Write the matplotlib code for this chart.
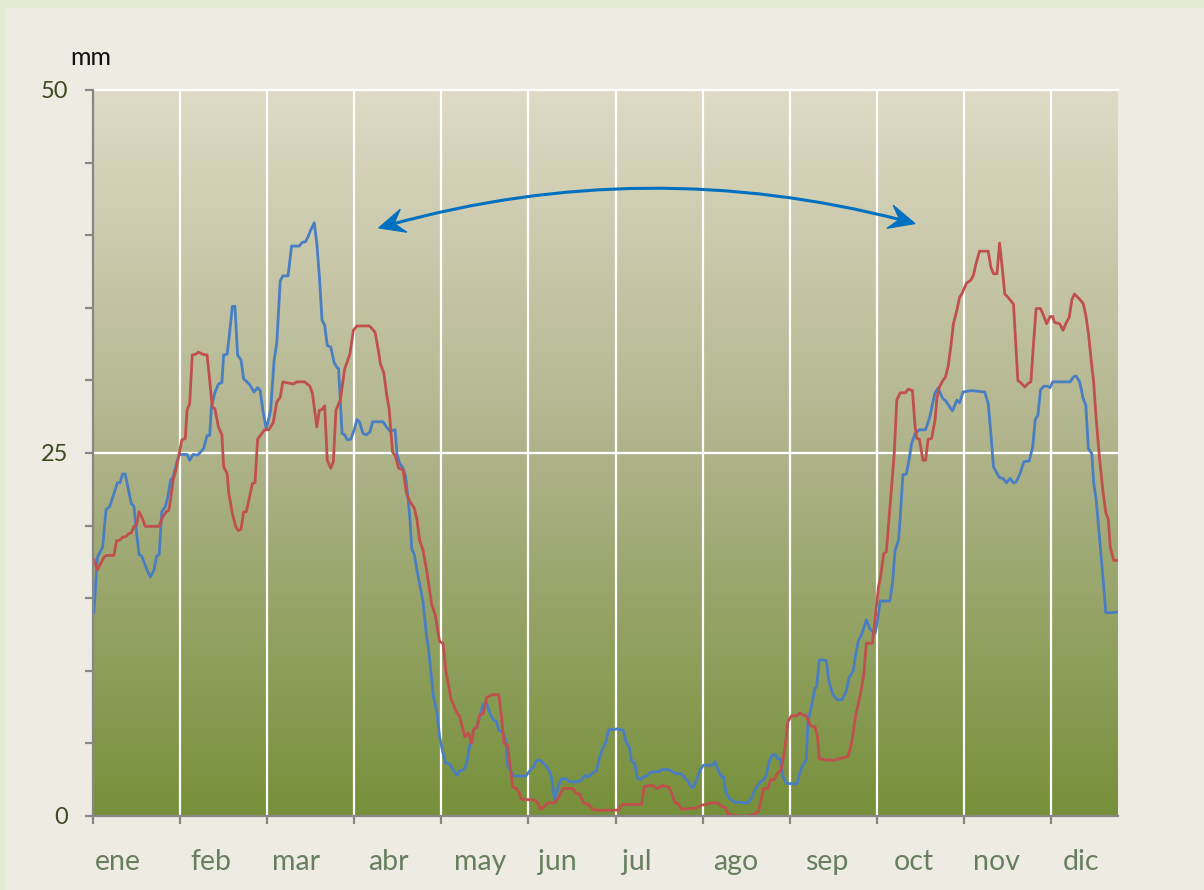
import numpy as np
import matplotlib
matplotlib.use("Agg")
import matplotlib.pyplot as plt
from matplotlib.patches import Rectangle, FancyArrowPatch, Polygon
from matplotlib.colors import LinearSegmentedColormap
import matplotlib.transforms as mtransforms

# ---------------- data ----------------
months = ["ene", "feb", "mar", "abr", "may", "jun", "jul", "ago", "sep", "oct", "nov", "dic"]

# x position in month units (0 = start of ene), value in mm
blue_x = [0.01, 0.05, 0.11, 0.15, 0.19, 0.23, 0.28, 0.31, 0.34, 0.37, 0.42, 0.44, 0.47, 0.50, 0.53,
          0.56, 0.62, 0.66, 0.70, 0.73, 0.76, 0.79, 0.83, 0.86, 0.89, 0.92, 0.96, 0.99, 1.08, 1.11,
          1.15, 1.20, 1.24, 1.27, 1.31, 1.34, 1.36, 1.40, 1.44, 1.48, 1.50, 1.54, 1.56, 1.60, 1.63,
          1.66, 1.70, 1.73, 1.76, 1.80, 1.85, 1.89, 1.92, 1.95, 1.99, 2.04, 2.08, 2.11, 2.15, 2.18,
          2.24, 2.28, 2.37, 2.40, 2.44, 2.47, 2.50, 2.54, 2.57, 2.60, 2.63, 2.66, 2.69, 2.73, 2.77,
          2.80, 2.82, 2.86, 2.89, 2.92, 2.96, 3.00, 3.03, 3.06, 3.10, 3.14, 3.18, 3.21, 3.33, 3.37,
          3.41, 3.47, 3.49, 3.52, 3.56, 3.59, 3.62, 3.64, 3.66, 3.69, 3.73, 3.79, 3.83, 3.85, 3.91,
          3.95, 3.98, 4.02, 4.05, 4.09, 4.14, 4.18, 4.21, 4.26, 4.29, 4.33, 4.37, 4.41, 4.44, 4.48,
          4.52, 4.56, 4.60, 4.63, 4.66, 4.70, 4.74, 4.76, 4.80, 4.83, 4.97, 5.02, 5.06, 5.09, 5.13,
          5.17, 5.21, 5.25, 5.27, 5.30, 5.34, 5.38, 5.43, 5.48, 5.57, 5.61, 5.65, 5.69, 5.73, 5.78,
          5.82, 5.86, 5.89, 5.92, 5.97, 6.02, 6.09, 6.12, 6.16, 6.18, 6.22, 6.25, 6.28, 6.32, 6.36,
          6.39, 6.43, 6.50, 6.53, 6.61, 6.64, 6.68, 6.76, 6.80, 6.83, 6.87, 6.90, 6.93, 6.97, 7.01,
          7.12, 7.14, 7.18, 7.21, 7.24, 7.27, 7.31, 7.37, 7.52, 7.56, 7.60, 7.66, 7.70, 7.73, 7.77,
          7.80, 7.83, 7.86, 7.89, 7.92, 7.96, 8.08, 8.12, 8.16, 8.19, 8.21, 8.25, 8.29, 8.31, 8.34,
          8.37, 8.42, 8.45, 8.50, 8.55, 8.60, 8.65, 8.68, 8.73, 8.76, 8.79, 8.83, 8.88, 8.92, 8.98,
          9.00, 9.04, 9.15, 9.18, 9.21, 9.25, 9.27, 9.30, 9.34, 9.37, 9.40, 9.44, 9.49, 9.56, 9.61,
          9.64, 9.67, 9.70, 9.76, 9.79, 9.84, 9.87, 9.92, 9.95, 9.99, 10.09, 10.24, 10.28, 10.31, 10.34,
          10.38, 10.41, 10.45, 10.49, 10.53, 10.57, 10.60, 10.64, 10.69, 10.75, 10.79, 10.82, 10.85, 10.88, 10.92,
          10.96, 10.99, 11.02, 11.22, 11.26, 11.29, 11.33, 11.37, 11.40, 11.43, 11.47, 11.49, 11.52, 11.56, 11.60,
          11.63, 11.70, 11.76]
blue_y = [14.0, 17.8, 18.5, 21.1, 21.3, 22.0, 22.95, 22.95, 23.55, 23.55, 22.1, 21.5, 21.35, 19.5, 18.0,
          17.9, 16.95, 16.45, 16.95, 17.9, 18.0, 20.95, 21.3, 22.0, 23.1, 23.35, 24.3, 24.9, 24.9, 24.5,
          24.9, 24.85, 25.1, 25.3, 26.2, 26.2, 28.2, 29.15, 29.75, 29.85, 31.75, 31.8, 32.8, 35.1, 35.1,
          31.75, 31.4, 30.1, 29.95, 29.7, 29.2, 29.5, 29.3, 27.95, 26.65, 27.95, 31.4, 32.55, 36.85, 37.2,
          37.2, 39.25, 39.25, 39.5, 39.55, 39.9, 40.35, 40.85, 39.45, 37.1, 34.15, 33.8, 32.4, 32.3, 31.2,
          30.9, 30.8, 26.35, 26.25, 25.9, 25.95, 26.6, 27.3, 27.15, 26.35, 26.25, 26.45, 27.15, 27.15, 26.8,
          26.5, 26.6, 24.95, 24.3, 23.95, 23.35, 21.75, 20.4, 18.4, 18.0, 16.6, 14.75, 12.4, 11.65, 8.2,
          7.1, 5.45, 4.3, 3.65, 3.6, 3.15, 2.8, 3.1, 3.2, 3.6, 5.0, 5.9, 6.15, 6.85, 7.7,
          7.75, 7.05, 6.6, 6.55, 5.9, 5.8, 5.25, 3.5, 3.05, 2.75, 2.75, 3.15, 3.4, 3.8, 3.85,
          3.65, 3.4, 2.95, 2.5, 1.1, 2.0, 2.55, 2.55, 2.35, 2.35, 2.5, 2.8, 2.7, 2.95, 3.1,
          4.1, 4.75, 5.1, 5.95, 5.95, 6.0, 5.9, 5.1, 4.75, 3.85, 3.6, 2.65, 2.5, 2.7, 2.75,
          2.95, 3.05, 3.05, 3.2, 3.2, 3.1, 2.95, 2.9, 2.6, 2.4, 2.0, 2.0, 2.5, 3.15, 3.5,
          3.5, 3.75, 3.15, 2.75, 2.7, 1.55, 1.2, 0.95, 0.9, 1.2, 1.8, 2.35, 2.5, 2.8, 3.85,
          4.2, 4.25, 3.95, 3.95, 2.75, 2.25, 2.2, 3.05, 3.6, 3.85, 6.5, 7.55, 8.8, 8.9, 10.75,
          10.75, 10.7, 9.3, 8.3, 8.0, 8.0, 8.6, 9.5, 10.0, 11.2, 12.1, 12.55, 13.5, 12.9, 12.55,
          13.15, 14.8, 14.8, 16.0, 18.3, 19.0, 20.6, 23.5, 23.55, 24.5, 25.65, 26.35, 26.6, 26.6, 27.5,
          28.4, 29.15, 29.45, 28.75, 28.6, 28.15, 27.9, 28.65, 28.45, 29.2, 29.3, 29.2, 28.4, 26.35, 24.05,
          23.6, 23.3, 23.25, 22.95, 23.25, 22.95, 23.0, 23.5, 24.4, 24.45, 25.4, 27.3, 27.6, 29.35, 29.6,
          29.6, 29.5, 29.9, 29.9, 30.25, 30.3, 29.9, 28.75, 28.3, 25.3, 24.95, 23.0, 21.75, 19.0, 16.25,
          14.0, 14.0, 14.05]

red_x = [0.01, 0.05, 0.09, 0.13, 0.16, 0.24, 0.27, 0.31, 0.34, 0.38, 0.41, 0.44, 0.47, 0.50, 0.53,
         0.57, 0.60, 0.76, 0.80, 0.84, 0.87, 0.89, 0.92, 0.95, 0.99, 1.02, 1.06, 1.08, 1.11, 1.14,
         1.18, 1.21, 1.26, 1.31, 1.34, 1.37, 1.40, 1.44, 1.48, 1.50, 1.54, 1.56, 1.60, 1.64, 1.67,
         1.70, 1.73, 1.76, 1.79, 1.83, 1.86, 1.89, 1.94, 1.97, 2.02, 2.07, 2.11, 2.15, 2.18, 2.26,
         2.30, 2.34, 2.43, 2.49, 2.52, 2.55, 2.57, 2.60, 2.63, 2.66, 2.69, 2.73, 2.76, 2.79, 2.84,
         2.89, 2.95, 2.99, 3.03, 3.17, 3.20, 3.24, 3.28, 3.30, 3.34, 3.37, 3.40, 3.44, 3.47, 3.51,
         3.56, 3.60, 3.64, 3.69, 3.72, 3.75, 3.79, 3.83, 3.89, 3.93, 3.98, 4.02, 4.05, 4.11, 4.17,
         4.21, 4.24, 4.27, 4.31, 4.35, 4.37, 4.41, 4.44, 4.48, 4.52, 4.58, 4.66, 4.69, 4.72, 4.76,
         4.79, 4.82, 4.86, 4.89, 4.92, 5.07, 5.11, 5.14, 5.18, 5.22, 5.30, 5.34, 5.40, 5.51, 5.55,
         5.59, 5.63, 5.69, 5.73, 5.78, 6.03, 6.08, 6.30, 6.33, 6.38, 6.43, 6.47, 6.50, 6.53, 6.61,
         6.64, 6.68, 6.72, 6.76, 6.82, 6.93, 6.99, 7.04, 7.10, 7.18, 7.22, 7.26, 7.29, 7.37, 7.41,
         7.51, 7.54, 7.60, 7.64, 7.68, 7.70, 7.75, 7.78, 7.82, 7.86, 7.90, 7.93, 7.96, 7.98, 8.02,
         8.08, 8.12, 8.15, 8.19, 8.24, 8.29, 8.32, 8.34, 8.42, 8.52, 8.60, 8.67, 8.71, 8.76, 8.81,
         8.85, 8.88, 8.95, 8.98, 9.02, 9.04, 9.08, 9.11, 9.14, 9.17, 9.20, 9.23, 9.27, 9.33, 9.36,
         9.41, 9.44, 9.46, 9.49, 9.53, 9.56, 9.59, 9.63, 9.67, 9.69, 9.72, 9.76, 9.79, 9.82, 9.85,
         9.88, 9.92, 9.95, 9.98, 10.03, 10.08, 10.11, 10.14, 10.18, 10.28, 10.31, 10.34, 10.38, 10.41, 10.44,
         10.47, 10.51, 10.57, 10.60, 10.62, 10.66, 10.70, 10.74, 10.77, 10.80, 10.83, 10.88, 10.92, 10.95, 10.99,
         11.02, 11.04, 11.10, 11.14, 11.17, 11.21, 11.24, 11.27, 11.32, 11.37, 11.40, 11.43, 11.47, 11.49, 11.52,
         11.56, 11.60, 11.63, 11.66, 11.68, 11.72, 11.76]
red_y = [17.65, 16.95, 17.4, 17.85, 17.95, 17.95, 18.95, 19.0, 19.2, 19.25, 19.45, 19.5, 19.95, 20.05, 20.95,
         20.45, 19.95, 19.95, 20.6, 20.95, 21.05, 21.75, 23.15, 23.8, 24.95, 25.9, 26.0, 27.95, 28.4, 31.75,
         31.8, 31.95, 31.8, 31.75, 30.0, 28.15, 28.05, 26.8, 26.25, 24.05, 23.6, 22.2, 20.85, 19.9, 19.65,
         19.75, 20.95, 20.95, 21.75, 22.9, 22.95, 25.95, 26.35, 26.6, 26.6, 27.1, 28.5, 28.85, 29.9, 29.8,
         29.75, 29.9, 29.9, 29.6, 29.1, 27.7, 26.8, 27.95, 28.0, 28.25, 24.5, 23.95, 24.4, 27.95, 28.65,
         30.8, 31.8, 33.45, 33.75, 33.75, 33.6, 33.3, 31.95, 31.15, 30.5, 29.1, 28.05, 25.05, 24.85, 23.95,
         23.85, 22.2, 21.65, 21.2, 20.4, 19.0, 18.3, 16.95, 14.55, 13.85, 12.0, 11.9, 10.05, 8.1, 7.2,
         6.85, 6.15, 5.45, 5.7, 5.0, 5.95, 6.1, 6.95, 7.05, 8.15, 8.35, 8.35, 6.85, 5.0, 4.9,
         3.4, 2.0, 1.9, 1.65, 1.15, 1.1, 0.9, 0.45, 0.65, 0.9, 0.9, 1.2, 1.9, 1.9, 1.55,
         1.5, 0.9, 0.8, 0.5, 0.4, 0.4, 0.8, 0.8, 2.0, 2.1, 2.1, 1.9, 1.95, 2.1, 2.0,
         1.65, 0.95, 0.85, 0.45, 0.5, 0.55, 0.75, 0.8, 0.9, 0.9, 0.65, 0.6, 0.15, 0.05, 0.0,
         0.0, 0.05, 0.15, 0.3, 1.3, 1.9, 1.9, 2.5, 2.5, 2.95, 3.15, 4.1, 5.35, 6.5, 6.9,
         6.9, 7.1, 6.95, 6.9, 6.2, 6.15, 5.45, 3.95, 3.85, 3.85, 4.0, 4.1, 5.0, 7.0, 8.3,
         9.7, 11.9, 11.9, 13.5, 15.8, 16.35, 18.05, 18.2, 20.4, 22.65, 24.95, 28.65, 29.15, 29.15, 29.4,
         29.3, 26.8, 26.0, 25.95, 24.5, 24.5, 25.95, 26.0, 27.3, 28.75, 29.55, 30.0, 30.25, 31.0, 32.3,
         33.9, 34.85, 35.7, 36.0, 36.7, 36.9, 37.25, 38.05, 38.9, 38.9, 37.8, 37.35, 37.35, 39.45, 37.8,
         35.95, 35.7, 35.25, 32.1, 30.0, 29.8, 29.55, 29.8, 29.9, 32.55, 34.95, 34.95, 34.4, 33.9, 34.4,
         34.4, 34.0, 33.9, 33.45, 33.9, 34.35, 35.55, 35.95, 35.65, 35.3, 34.5, 33.25, 30.95, 29.9, 27.3,
         24.5, 22.2, 20.9, 20.4, 18.55, 17.6, 17.6]

y_major = [0, 25, 50]
y_minor = [5, 10, 15, 20, 30, 35, 40, 45]

# ---------------- layout / style ----------------
W, H = 1204, 890
X_END = 11.77          # axis end in month units
label_pos = [0.28, 1.35, 2.33, 3.39, 4.45, 5.33, 6.25, 7.38, 8.42, 9.43, 10.37, 11.34]

FONT = ["Lato", "DejaVu Sans"]
plt.rcParams["font.family"] = FONT

fig = plt.figure(figsize=(W / 100, H / 100), dpi=100)
fig.patch.set_facecolor("#E3EBD3")
fig.patches.append(Rectangle((6 / W, 0), 1, (H - 8) / H, transform=fig.transFigure,
                             facecolor="#EEECE2", edgecolor="none", zorder=-10))

ax = fig.add_axes([93 / W, 1 - 816 / H, 1025 / W, 726 / H])
ax.set_xlim(0, X_END)
ax.set_ylim(0, 50)

# vertical gradient background
cmap = LinearSegmentedColormap.from_list(
    "bg", [(0.0, "#76903A"), (0.5, "#AFB38A"), (1.0, "#DFDAC5")])
grad = np.linspace(0, 1, 512).reshape(-1, 1)
ax.imshow(grad, extent=[0, X_END, 0, 50], aspect="auto", origin="lower",
          cmap=cmap, zorder=0, interpolation="bicubic")

# white grid
for i in range(1, 12):
    ax.axvline(i, color="white", lw=1.6, zorder=1)
for v in (25, 50):
    ax.axhline(v, color="white", lw=1.6, zorder=1, clip_on=False)

# series
ax.plot(blue_x, blue_y, color="#4A7EC2", lw=2.0, zorder=3, solid_joinstyle="round")
ax.plot(red_x, red_y, color="#C0504D", lw=2.0, zorder=4, solid_joinstyle="round")

# curved double arrow with stealth heads
ARROW_C = "#0070C0"
RAD = -0.14
pA = np.array(ax.transData.transform((3.28, 40.5)))
pB = np.array(ax.transData.transform((9.44, 40.8)))
mid = (pA + pB) / 2
d = pB - pA
ctrl = np.array([mid[0] + RAD * d[1], mid[1] - RAD * d[0]])

arc = FancyArrowPatch(posA=(3.28, 40.5), posB=(9.44, 40.8), arrowstyle="-",
                      connectionstyle=f"arc3,rad={RAD}", color=ARROW_C, lw=2.2,
                      shrinkA=9, shrinkB=9, zorder=5)
ax.add_patch(arc)

L, HW, NOTCH = 26.0, 12.0, 0.62
for tip in (pA, pB):
    u = tip - ctrl
    u = u / np.hypot(*u)
    n = np.array([-u[1], u[0]])
    base = tip - L * u
    pts = [tip, base + HW * n, tip - NOTCH * L * u, base - HW * n]
    fig.add_artist(Polygon(pts, closed=True, transform=mtransforms.IdentityTransform(),
                           facecolor=ARROW_C, edgecolor=ARROW_C, lw=0.8, zorder=6))

# spines
for s in ("top", "right"):
    ax.spines[s].set_visible(False)
for s in ("left", "bottom"):
    ax.spines[s].set_color("#878787")
    ax.spines[s].set_linewidth(1.6)
    ax.spines[s].set_zorder(6)

# ticks
ax.set_yticks(y_major)
ax.set_yticks(y_minor, minor=True)
ax.set_yticklabels([str(v) for v in y_major])
ax.tick_params(axis="y", which="both", direction="out", length=6, width=1.6,
               color="#878787", labelsize=17, labelcolor="#3E4A21", pad=12)
ax.set_xticks(range(12))
ax.set_xticklabels([])
ax.tick_params(axis="x", which="both", direction="out", length=6, width=1.6,
               color="#878787")

trans = mtransforms.blended_transform_factory(ax.transData, ax.transAxes)
for name, xp in zip(months, label_pos):
    ax.text(xp, -46 / 726, name, transform=trans, ha="center", va="center",
            fontsize=20.5, color="#687F5F")

fig.text(70 / W, 1 - 65 / H, "mm", ha="left", va="baseline", fontsize=18, color="#111111")

fig.savefig("out.png", dpi=100, facecolor=fig.get_facecolor())
